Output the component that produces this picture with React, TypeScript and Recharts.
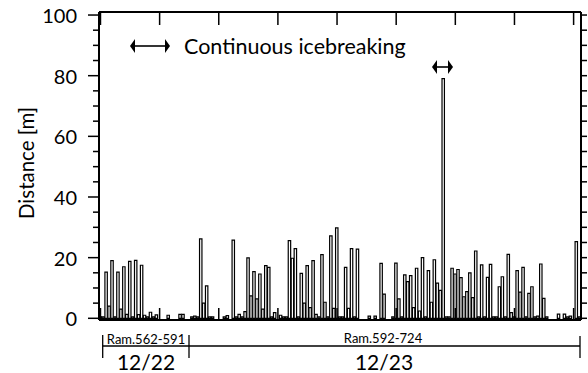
import React from "react";
import { Bar, BarChart, XAxis, YAxis } from "recharts";

// ram numbers 562..724, one bar each
const rams: number[] = Array.from({ length: 163 }, (_, i) => 562 + i);

// distance [m] per ram
const distance: number[] = [
  0.5, 0.5, 15.2, 4, 19, 0.5, 15.2, 3, 17, 1.3,
  18.8, 0.5, 19.1, 1.2, 17.5, 1, 0.5, 2, 0.5, 1.1,
  0, 0, 0, 1, 0, 0, 0, 1.3, 1.3, 0,
  0, 0.5, 0.7, 0.5, 26.2, 5, 10.7, 0.5, 0.5, 0,
  0, 0, 0.5, 0.9, 0, 25.8, 0.5, 1.3, 0.5, 2.2,
  19.9, 7.4, 15.4, 6.4, 14.6, 3, 17.4, 16.8, 0.5, 1.9,
  0, 1, 0.5, 0.5, 25.6, 19.8, 23, 0.5, 14.8, 5,
  17.4, 3.5, 19, 1.3, 0.5, 21, 5.3, 0.5, 27.2, 3.3,
  29.8, 0.5, 0.5, 16.8, 3.3, 23, 0.5, 22.8, 0, 0,
  0, 0.7, 0, 0.7, 0, 18.1, 8, 0, 0, 0.5,
  18.2, 6.4, 0.5, 14.3, 12.1, 14.1, 3.5, 16.5, 2.4, 20,
  0.5, 15.7, 5.3, 19.3, 11.6, 9.2, 79, 0.5, 0.5, 16.5,
  14.6, 16.1, 13.4, 7.1, 8.8, 15, 6.8, 22.2, 0.5, 17.6,
  0.5, 13.5, 17.8, 0.5, 0.5, 10.4, 13.7, 0.5, 21.1, 1.9,
  0.5, 15.7, 8.6, 16.8, 0.5, 8.2, 10.4, 0.5, 0.7, 17.9,
  6.6, 0.5, 0, 0, 0, 1.4, 0, 1.4, 0.5, 0.7,
  0, 25.3, 0.5,
];

const yTicks = [0, 5, 10, 15, 20, 25, 30, 35, 40, 45, 50, 55, 60, 65, 70, 75, 80, 85, 90, 95, 100];
const yLabels = [0, 20, 40, 60, 80, 100];

const data = rams.map((ram, i) => ({ ram, distance: distance[i] }));

const font = "Lato, 'Open Sans', sans-serif";
const W = 588;
const H = 373;
const plotLeft = 99;
const plotRight = 581;
const plotTop = 12;
const plotBottom = 320;

const LeftTick = (props: any) => {
  const { y, payload } = props;
  const major = yLabels.includes(payload.value);
  return (
    <g>
      <line x1={plotLeft - (major ? 11 : 6)} x2={plotLeft} y1={y} y2={y} stroke="#000" strokeWidth={1.5} />
      {major && (
        <text x={77} y={y} textAnchor="end" dominantBaseline="central" fontFamily={font} fontSize={20} fill="#000">
          {payload.value}
        </text>
      )}
    </g>
  );
};

const RightTick = (props: any) => {
  const { y } = props;
  return <line x1={plotRight} x2={plotRight + 6} y1={y} y2={y} stroke="#000" strokeWidth={1.5} />;
};

const BottomTick = (props: any) => {
  const { x } = props;
  return <line x1={x} x2={x} y1={plotBottom} y2={plotBottom - 12} stroke="#000" strokeWidth={1.5} />;
};

const TopTick = (props: any) => {
  const { x } = props;
  return <line x1={x} x2={x} y1={plotTop} y2={plotTop + 13} stroke="#000" strokeWidth={1.5} />;
};

function Arrow({ x1, x2, y }: { x1: number; x2: number; y: number }) {
  return (
    <g>
      <line x1={x1 + 4} x2={x2 - 4} y1={y} y2={y} stroke="#000" strokeWidth={1.6} />
      <polygon points={`${x1},${y} ${x1 + 5},${y - 7} ${x1 + 5},${y + 7}`} fill="#000" />
      <polygon points={`${x2},${y} ${x2 - 5},${y - 7} ${x2 - 5},${y + 7}`} fill="#000" />
    </g>
  );
}

export default function App() {
  return (
    <div style={{ position: "absolute", left: 0, top: 0, width: W, height: H, background: "#fff" }}>
      <BarChart
        width={W}
        height={H}
        data={data}
        margin={{ top: 0, right: 0, bottom: 0, left: 0 }}
        barCategoryGap={0}
        barGap={0}
      >
        <XAxis
          dataKey="ram"
          height={H - plotBottom}
          interval={19}
          axisLine={{ stroke: "#000", strokeWidth: 2 }}
          tickLine={false}
          tick={BottomTick}
        />
        <XAxis
          xAxisId="top"
          dataKey="ram"
          orientation="top"
          height={plotTop}
          interval={19}
          axisLine={{ stroke: "#000", strokeWidth: 2 }}
          tickLine={false}
          tick={TopTick}
        />
        <YAxis
          width={plotLeft}
          domain={[-0.56, 101]}
          ticks={yTicks}
          interval={0}
          allowDataOverflow
          axisLine={{ stroke: "#000", strokeWidth: 2 }}
          tickLine={false}
          tick={LeftTick}
        />
        <YAxis
          yAxisId="right"
          orientation="right"
          width={W - plotRight}
          domain={[-0.56, 101]}
          ticks={yTicks}
          interval={0}
          allowDataOverflow
          axisLine={{ stroke: "#000", strokeWidth: 2 }}
          tickLine={false}
          tick={RightTick}
        />
        <Bar
          dataKey="distance"
          fill="#fff"
          stroke="#000"
          strokeWidth={1.2}
          barSize={2.4}
          isAnimationActive={false}
        />
      </BarChart>
      <svg width={W} height={H} style={{ position: "absolute", left: 0, top: 0, pointerEvents: "none" }}>
        <text
          transform="translate(26,163) rotate(-90)"
          textAnchor="middle"
          dominantBaseline="central"
          fontFamily={font}
          fontSize={20.5}
          fill="#000"
        >
          Distance [m]
        </text>
        <Arrow x1={130} x2={170} y={46} />
        <text x={184} y={46} dominantBaseline="central" fontFamily={font} fontSize={21.5} fill="#000">
          Continuous icebreaking
        </text>
        <Arrow x1={432} x2={453} y={67} />
        <g stroke="#000" strokeWidth={1.3}>
          <line x1={102.7} x2={102.7} y1={335} y2={358} />
          <line x1={189} x2={189} y1={335} y2={358} />
          <line x1={580} x2={580} y1={336} y2={358} />
          <line x1={102.7} x2={580} y1={346} y2={346} />
        </g>
        <text x={146} y={344} textAnchor="middle" fontFamily={font} fontSize={13} fill="#000">
          Ram.562-591
        </text>
        <text x={146} y={361} textAnchor="middle" dominantBaseline="central" fontFamily={font} fontSize={21} fill="#000">
          12/22
        </text>
        <text x={383} y={343} textAnchor="middle" fontFamily={font} fontSize={13} fill="#000">
          Ram.592-724
        </text>
        <text x={384} y={361} textAnchor="middle" dominantBaseline="central" fontFamily={font} fontSize={21} fill="#000">
          12/23
        </text>
      </svg>
    </div>
  );
}
